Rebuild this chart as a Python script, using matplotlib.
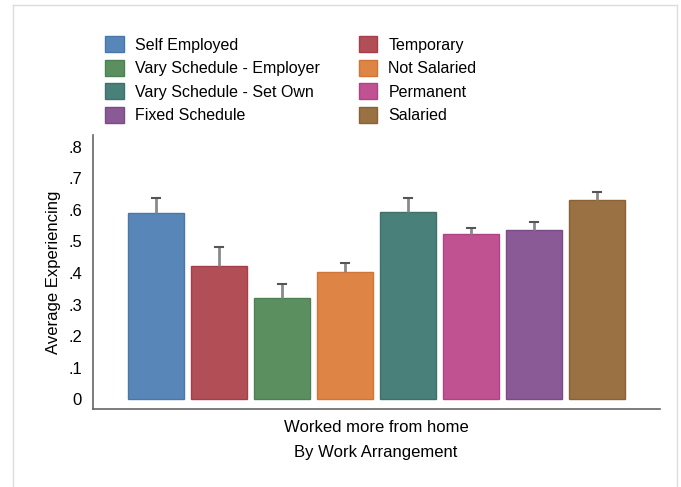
import matplotlib.pyplot as plt
from matplotlib.patches import Patch

plt.rcParams['font.family'] = ['Liberation Sans', 'DejaVu Sans']

# bar order as drawn (left to right)
groups = ['Self Employed', 'Temporary', 'Vary Schedule - Employer', 'Not Salaried',
          'Vary Schedule - Set Own', 'Permanent', 'Fixed Schedule', 'Salaried']
means = [0.589, 0.421, 0.320, 0.404, 0.592, 0.522, 0.537, 0.632]
upper = [0.636, 0.483, 0.366, 0.430, 0.638, 0.543, 0.560, 0.657]
colors = ['#5986b9', '#b14e56', '#5b8f60', '#de8445', '#4a807a',
          '#c05292', '#8a5a97', '#9a7142']
edges = ['#4a77ab', '#a23f48', '#4d8052', '#d07537', '#3d716b',
         '#b04383', '#7a4b88', '#8a6233']
yticks = [0, .1, .2, .3, .4, .5, .6, .7, .8]
yticklabels = ['0', '.1', '.2', '.3', '.4', '.5', '.6', '.7', '.8']

fig = plt.figure(figsize=(6.81, 4.87), dpi=100)
W, H = 681, 487

# outer light frame (open at the bottom, cut off by the screenshot)
fig.add_artist(plt.Line2D([12.5 / W, 12.5 / W], [0, 1 - 4.5 / H], color='#dcdcdc', lw=1))
fig.add_artist(plt.Line2D([12.5 / W, 677 / W], [1 - 4.5 / H, 1 - 4.5 / H], color='#dcdcdc', lw=1))
fig.add_artist(plt.Line2D([677 / W, 677 / W], [0, 1 - 4.5 / H], color='#dcdcdc', lw=1))
fig.text(122 / W, 1 + 9 / H, '(b)', ha='center', va='center', fontsize=12, color='#555555')

ax = fig.add_axes([93 / W, (H - 409) / H, (660 - 93) / W, (409 - 135) / H])
x = list(range(len(groups)))
for i in x:
    ax.bar(i, means[i], width=0.89, color=colors[i], edgecolor=edges[i], linewidth=1, zorder=2)
    err = upper[i] - means[i]
    ax.errorbar(i, means[i], yerr=[[0], [err]], fmt='none', ecolor='#8a8a8a',
                elinewidth=2, capsize=0, zorder=3)
    ax.plot([i - 0.065, i + 0.065], [upper[i], upper[i]], color='#555555', lw=1.5, zorder=3)

ax.set_xlim(-1, 8)
ax.set_ylim(-0.031, 0.837)
ax.set_yticks(yticks)
ax.set_yticklabels(yticklabels, fontsize=12)
ax.set_xticks([])
ax.tick_params(axis='y', length=0, pad=8)
for s in ['top', 'right']:
    ax.spines[s].set_visible(False)
for s in ['left', 'bottom']:
    ax.spines[s].set_color('#666666')
    ax.spines[s].set_linewidth(1.2)
ax.set_ylabel('Average Experiencing', fontsize=12, labelpad=5)

fig.text(376 / W, 1 - 427 / H, 'Worked more from home', ha='center', va='center', fontsize=12)
fig.text(376 / W, 1 - 452 / H, 'By Work Arrangement', ha='center', va='center', fontsize=12)

# legend: row-major order in two columns
handles = [Patch(facecolor=colors[i], edgecolor=edges[i], label=groups[i]) for i in x]
order = [0, 2, 4, 6, 1, 3, 5, 7]
fig.legend([handles[i] for i in order], [groups[i] for i in order], ncol=2,
           loc='upper left', bbox_to_anchor=(99 / W, 1 - 30 / H), frameon=False,
           fontsize=11.5, handlelength=1.15, handleheight=1.15, handletextpad=0.7,
           columnspacing=2.45, labelspacing=0.45, borderaxespad=0)

fig.savefig('out.png', dpi=100)
